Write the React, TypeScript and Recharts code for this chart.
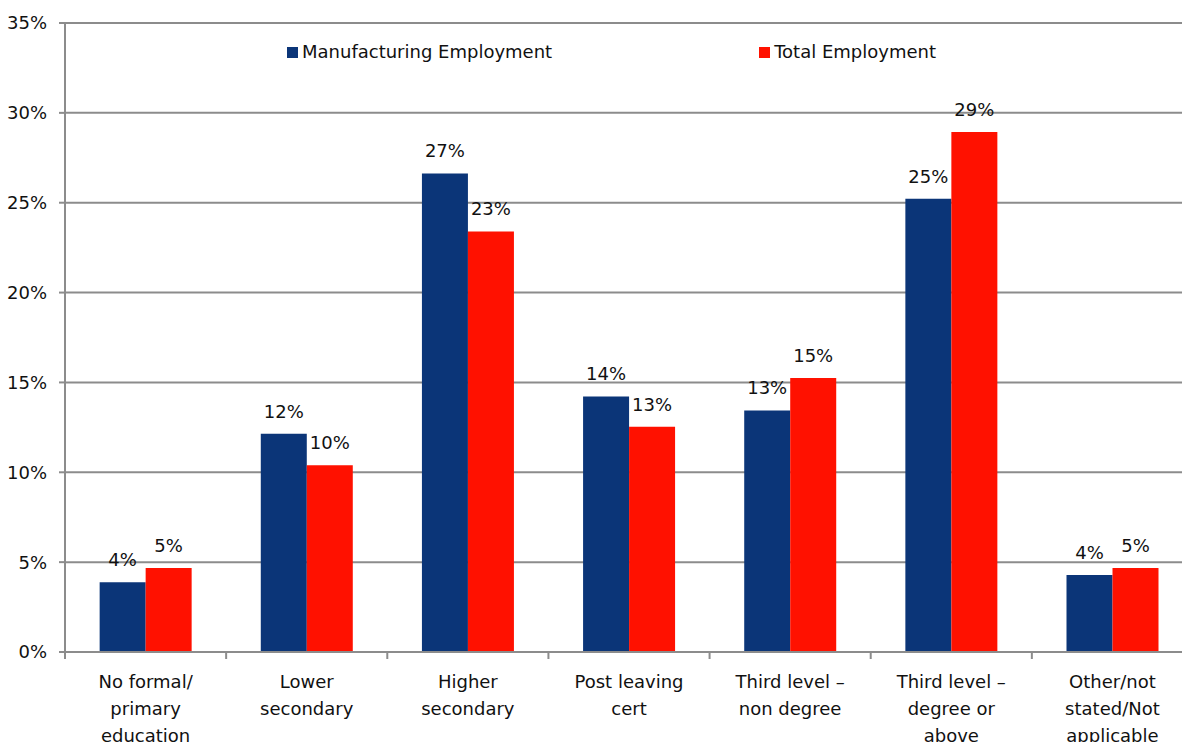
import { BarChart, Bar, XAxis, YAxis, CartesianGrid, LabelList } from 'recharts';

// values (share of employment, %)
const categories = [
  'No formal/\nprimary\neducation',
  'Lower\nsecondary',
  'Higher\nsecondary',
  'Post leaving\ncert',
  'Third level –\nnon degree',
  'Third level –\ndegree or\nabove',
  'Other/not\nstated/Not\napplicable',
];
const manufacturing = [3.88, 12.15, 26.63, 14.22, 13.44, 25.22, 4.28];
const total = [4.67, 10.39, 23.4, 12.54, 15.24, 28.94, 4.67];
const yTicks = [0, 5, 10, 15, 20, 25, 30, 35];

const data = categories.map((name, i) => ({
  name,
  manufacturing: manufacturing[i],
  total: total[i],
}));

const BLUE = '#0B3578';
const RED = '#FF1100';
const GRID = '#8C8C8C';
const FONT = "'DejaVu Sans', sans-serif";
const FS = 18;

const pct = (v: number) => `${Math.round(v)}%`;

// category label split into lines, plus tick marks at the band edges
function CategoryTick(props: any) {
  const { x, y, payload } = props;
  const lines = String(payload.value).split('\n');
  const half = payload.offset ?? 0;
  return (
    <g>
      {payload.index === 0 && <line x1={x - half} x2={x - half} y1={y} y2={y + 7} stroke={GRID} strokeWidth={2} />}
      <line x1={x + half} x2={x + half} y1={y} y2={y + 7} stroke={GRID} strokeWidth={2} />
      <text x={x} y={y} textAnchor="middle" fill="#111" fontSize={FS} fontFamily={FONT}>
        {lines.map((line, i) => (
          <tspan key={i} x={x} dy={i === 0 ? 36 : 27}>{line}</tspan>
        ))}
      </text>
    </g>
  );
}

function ChartLegend() {
  const item = (color: string, label: string, gap: number) => (
    <div style={{ display: 'flex', alignItems: 'center', marginRight: gap }}>
      <span style={{ width: 11, height: 11, background: color, marginRight: 4 }} />
      <span style={{ fontSize: FS, lineHeight: '22px', color: '#111', fontFamily: FONT }}>{label}</span>
    </div>
  );
  return (
    <div style={{ position: 'absolute', top: 41, left: 287, display: 'flex' }}>
      {item(BLUE, 'Manufacturing Employment', 207)}
      {item(RED, 'Total Employment', 0)}
    </div>
  );
}

export default function App() {
  return (
    <div style={{ position: 'absolute', left: 0, top: 0, width: 1182, height: 742, overflow: 'hidden', background: '#fff' }}>
      <BarChart
        width={1200}
        height={742}
        data={data}
        margin={{ top: 23, right: 7, bottom: 0, left: 0 }}
        barCategoryGap="21.5%"
        barGap={0}
      >
        <CartesianGrid vertical={false} stroke={GRID} strokeWidth={2} />
        <XAxis
          dataKey="name"
          height={90}
          tick={<CategoryTick />}
          interval={0}
          tickSize={0}
          tickMargin={0}
          axisLine={{ stroke: GRID, strokeWidth: 2 }}
          tickLine={false}
        />
        <YAxis
          width={65}
          domain={[0, 35]}
          ticks={yTicks}
          tickFormatter={(v: number) => `${v}%`}
          tick={{ fontSize: FS, fill: '#111', fontFamily: FONT }}
          tickSize={6}
          tickMargin={12}
          axisLine={{ stroke: GRID, strokeWidth: 2 }}
          tickLine={{ stroke: GRID, strokeWidth: 2 }}
        />
        <Bar dataKey="manufacturing" name="Manufacturing Employment" fill={BLUE} isAnimationActive={false}>
          <LabelList dataKey="manufacturing" position="top" offset={16} formatter={pct} fontSize={FS} fill="#111" fontFamily={FONT} />
        </Bar>
        <Bar dataKey="total" name="Total Employment" fill={RED} isAnimationActive={false}>
          <LabelList dataKey="total" position="top" offset={16} formatter={pct} fontSize={FS} fill="#111" fontFamily={FONT} />
        </Bar>
      </BarChart>
      <ChartLegend />
    </div>
  );
}
